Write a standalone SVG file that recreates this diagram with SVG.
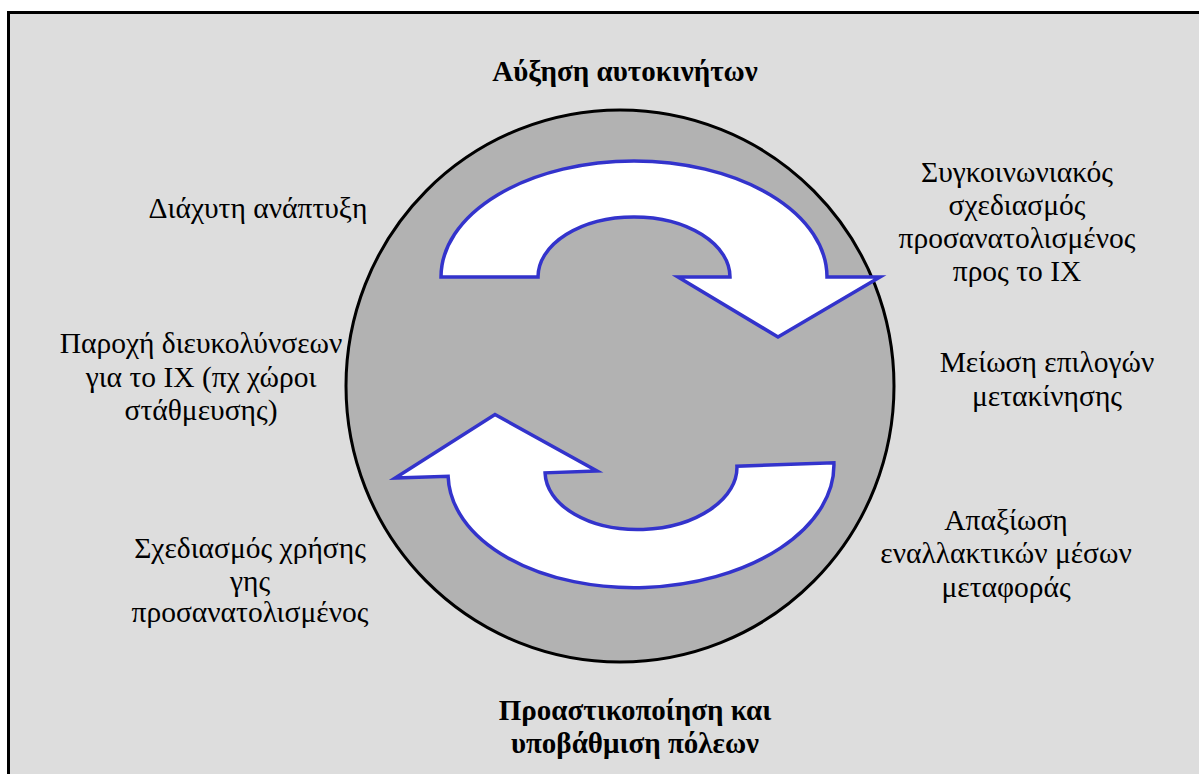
<svg xmlns="http://www.w3.org/2000/svg" width="1199" height="774" viewBox="0 0 1199 774">
<defs>
<style>
  .arrow { fill: #fff; stroke: #3333cc; stroke-width: 3.5; stroke-linejoin: miter; }
</style>
</defs>
<rect x="0" y="0" width="1199" height="774" fill="#fff"/>
<rect x="8.5" y="12.5" width="1200" height="780" fill="#dddddd" stroke="#000" stroke-width="3"/>
<g id="cycle">
  <ellipse cx="620" cy="386" rx="274" ry="276" fill="#b2b2b2" stroke="#000" stroke-width="3"/>
</g>
<g id="connectors">
  <path class="arrow" transform="translate(634,277)" d="M -193,0 A 193,116 0 0 1 193,0 L 246,0 L 144,60 L 44,0 L 96,0 A 96,60 0 0 0 -96,0 Z"/>
  <path class="arrow" transform="translate(641,469.5) rotate(-2)" d="M 193,0 A 193,118 0 0 1 -193,0 L -246,0 L -144,-60 L -44,0 L -96,0 A 96,60 0 0 0 96,0 Z"/>
</g>
<g id="top"><text font-family="Times New Roman" font-size="29" text-anchor="middle" font-weight="bold" x="625" y="81">Αύξηση αυτοκινήτων</text></g>
<g id="right1"><text font-family="Times New Roman" font-size="29.5" text-anchor="middle" x="1017" y="182">Συγκοινωνιακός</text><text font-family="Times New Roman" font-size="29.5" text-anchor="middle" x="1017" y="215">σχεδιασμός</text><text font-family="Times New Roman" font-size="29.5" text-anchor="middle" x="1017" y="248">προσανατολισμένος</text><text font-family="Times New Roman" font-size="29.5" text-anchor="middle" x="1017" y="281">προς το ΙΧ</text></g>
<g id="left1"><text font-family="Times New Roman" font-size="29.5" text-anchor="middle" x="258" y="218">Διάχυτη ανάπτυξη</text></g>
<g id="left2"><text font-family="Times New Roman" font-size="29.5" text-anchor="middle" x="201" y="353">Παροχή διευκολύνσεων</text><text font-family="Times New Roman" font-size="29.5" text-anchor="middle" x="201" y="387">για το ΙΧ (πχ χώροι</text><text font-family="Times New Roman" font-size="29.5" text-anchor="middle" x="201" y="420">στάθμευσης)</text></g>
<g id="right2"><text font-family="Times New Roman" font-size="29.5" text-anchor="middle" x="1047" y="372">Μείωση επιλογών</text><text font-family="Times New Roman" font-size="29.5" text-anchor="middle" x="1047" y="406">μετακίνησης</text></g>
<g id="right3"><text font-family="Times New Roman" font-size="29.5" text-anchor="middle" x="1006" y="530">Απαξίωση</text><text font-family="Times New Roman" font-size="29.5" text-anchor="middle" x="1006" y="563">εναλλακτικών μέσων</text><text font-family="Times New Roman" font-size="29.5" text-anchor="middle" x="1006" y="597">μεταφοράς</text></g>
<g id="left3"><text font-family="Times New Roman" font-size="29.5" text-anchor="middle" x="250" y="558">Σχεδιασμός χρήσης</text><text font-family="Times New Roman" font-size="29.5" text-anchor="middle" x="250" y="591">γης</text><text font-family="Times New Roman" font-size="29.5" text-anchor="middle" x="250" y="622">προσανατολισμένος</text></g>
<g id="bottom"><text font-family="Times New Roman" font-size="29" text-anchor="middle" font-weight="bold" x="635" y="720">Προαστικοποίηση και</text><text font-family="Times New Roman" font-size="29" text-anchor="middle" font-weight="bold" x="635" y="753">υποβάθμιση πόλεων</text></g>
</svg>
